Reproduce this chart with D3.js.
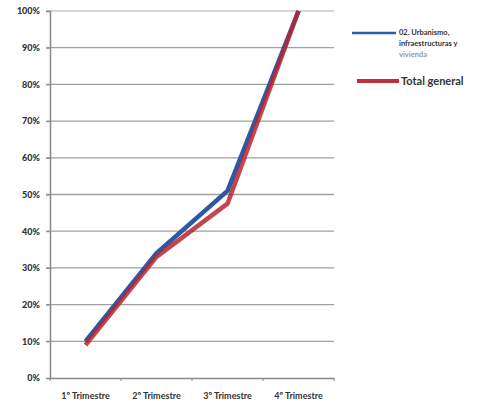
<!DOCTYPE html>
<html><head><meta charset="utf-8">
<script src="https://cdn.jsdelivr.net/npm/d3@7"></script>
<style>
body{margin:0;background:#fff;}
text{font-family:Lato,"Open Sans",sans-serif;}
</style></head>
<body><svg id="c" width="478" height="403"></svg>
<script>
const categories = ["1º Trimestre","2º Trimestre","3º Trimestre","4º Trimestre"];
const urbanismo = [10, 34, 51, 100];
const totalGeneral = [9, 33, 47.5, 100];
const yTicks = [0,10,20,30,40,50,60,70,80,90,100];
const seriesNames = ["02. Urbanismo, infraestructuras y vivienda","Total general"];

const svg = d3.select("#c");
const m = {l:50, r:334, t:11, b:378};
const x = d3.scaleBand().domain(categories).range([m.l, m.r]);
const y = d3.scaleLinear().domain([0,100]).range([m.b, m.t]);

// gridlines
svg.append("g").selectAll("line").data(yTicks.filter(d=>d>0)).join("line")
  .attr("x1", m.l-4).attr("x2", m.r)
  .attr("y1", d=>y(d)).attr("y2", d=>y(d))
  .attr("stroke", d=>d===100?"#c8c8c8":"#a0a0a0").attr("stroke-width",1.3);

// y axis
const yAxis = d3.axisLeft(y).tickValues(yTicks).tickFormat(d=>d+"%").tickSize(4).tickPadding(6);
const gy = svg.append("g").attr("transform",`translate(${m.l},0)`).call(yAxis);
gy.select(".domain").attr("stroke","#888").attr("stroke-width",1.5);
gy.selectAll(".tick line").attr("stroke","#888");
gy.selectAll("text").attr("font-size",9).attr("font-weight","900").attr("fill","#333");

// x axis
const xAxis = d3.axisBottom(x).tickSize(0).tickPadding(15);
const gx = svg.append("g").attr("transform",`translate(0,${m.b})`).call(xAxis);
gx.select(".domain").attr("stroke","#888").attr("stroke-width",1.5);
gx.selectAll("text").attr("font-size",9).attr("font-weight","bold").attr("fill","#333");
const bounds = categories.map(c=>x(c)).concat([m.r]);
svg.append("g").selectAll("line").data(bounds).join("line")
  .attr("x1",d=>d).attr("x2",d=>d).attr("y1",m.b).attr("y2",m.b+3)
  .attr("stroke","#888");

const line = d3.line().x((d,i)=>x(categories[i])+x.bandwidth()/2).y(d=>y(d));
svg.append("path").datum(urbanismo).attr("d",line).attr("fill","none")
  .attr("stroke","#2c58a4").attr("stroke-width",4.5).attr("stroke-linejoin","round");
svg.append("path").datum(totalGeneral).attr("d",line).attr("fill","none")
  .attr("stroke","#b8262f").attr("stroke-width",4.5).attr("stroke-opacity",0.85).attr("stroke-linejoin","round");

// legend
const lg = svg.append("g");
lg.append("line").attr("x1",352).attr("x2",396).attr("y1",33).attr("y2",33)
  .attr("stroke","#2c58a4").attr("stroke-width",2.5);
const lt = lg.append("text").attr("x",399).attr("y",35).attr("font-size",7.5).attr("font-weight","bold").attr("fill","#333");
["02. Urbanismo,","infraestructuras y","vivienda"].forEach((s,i)=>{
  lt.append("tspan").attr("x",399).attr("dy",i?11:0).text(s).attr("fill", i===2?"#999":"#333");
});
lg.append("line").attr("x1",357).attr("x2",399).attr("y1",81).attr("y2",81)
  .attr("stroke","#c0303a").attr("stroke-width",4);
lg.append("text").attr("x",401).attr("y",85).attr("font-size",11).attr("font-weight","bold")
  .attr("fill","#333").text(seriesNames[1]);
</script></body></html>
